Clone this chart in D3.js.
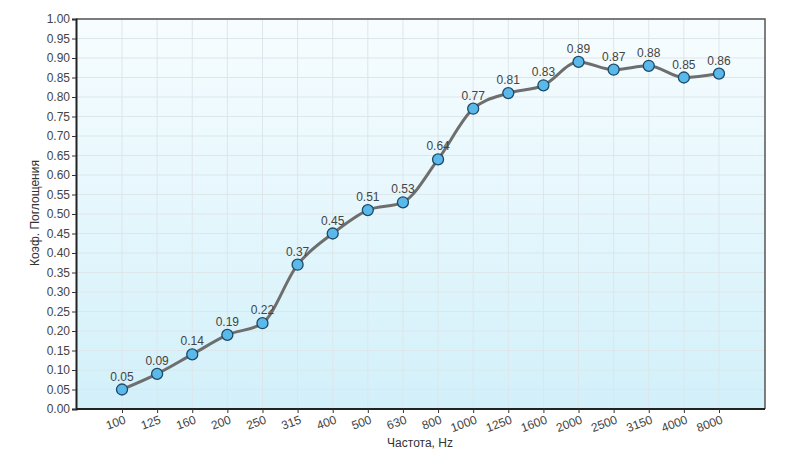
<!DOCTYPE html>
<html><head><meta charset="utf-8">
<script src="https://cdn.jsdelivr.net/npm/d3@7"></script>
<style>body{margin:0;background:#fff;}svg{display:block;font-family:Arial,"Liberation Sans",sans-serif;}</style>
</head><body>
<svg id="chart" width="800" height="457"></svg>
<script>
const categories = ["100","125","160","200","250","315","400","500","630","800","1000","1250","1600","2000","2500","3150","4000","8000"];
const values = [0.05,0.09,0.14,0.19,0.22,0.37,0.45,0.51,0.53,0.64,0.77,0.81,0.83,0.89,0.87,0.88,0.85,0.86];
const yTicks = d3.range(0, 21).map(i => +(i * 0.05).toFixed(2));
const yTitle = "Коэф. Поглощения";
const xTitle = "Частота, Hz";

const svg = d3.select("#chart");
const m = {left: 76, right: 35, top: 19, bottom: 48};
const W = 800, H = 457;
const x0 = m.left, x1 = W - m.right, y0 = H - m.bottom, y1 = m.top;

const x = d3.scalePoint().domain(categories).range([x0, x1]).padding(1.31);
const y = d3.scaleLinear().domain([0, 1]).range([y0, y1]);

const defs = svg.append("defs");
const grad = defs.append("linearGradient").attr("id", "bg").attr("x1", 0).attr("y1", 0).attr("x2", 0).attr("y2", 1);
grad.append("stop").attr("offset", "0%").attr("stop-color", "#f7fdff");
grad.append("stop").attr("offset", "100%").attr("stop-color", "#d2f0fa");

svg.append("rect").attr("x", x0).attr("y", y1).attr("width", x1 - x0).attr("height", y0 - y1).attr("fill", "url(#bg)");

// grid
svg.append("g").selectAll("line.h").data(yTicks.slice(1)).join("line")
  .attr("x1", x0).attr("x2", x1).attr("y1", d => y(d)).attr("y2", d => y(d))
  .attr("stroke", "#dde6ea").attr("stroke-width", 1);
svg.append("g").selectAll("line.v").data(categories).join("line")
  .attr("x1", d => x(d)).attr("x2", d => x(d)).attr("y1", y1).attr("y2", y0)
  .attr("stroke", "#dde6ea").attr("stroke-width", 1);

// border top/right
svg.append("path").attr("d", `M${x0},${y1}H${x1}V${y0}`).attr("fill", "none").attr("stroke", "#555").attr("stroke-width", 1.5);

// y axis
const yAxis = svg.append("g").attr("transform", `translate(${x0},0)`)
  .call(d3.axisLeft(y).tickValues(yTicks).tickFormat(d3.format(".2f")).tickSize(4).tickPadding(2));
yAxis.select(".domain").attr("stroke", "#222").attr("stroke-width", 2);
yAxis.selectAll(".tick line").attr("stroke", "#333");
yAxis.selectAll("text").attr("font-size", 12).attr("fill", "#444");

// x axis
const xAxis = svg.append("g").attr("transform", `translate(0,${y0})`)
  .call(d3.axisBottom(x).tickSize(4).tickPadding(3));
xAxis.select(".domain").attr("d", `M${x0},0H${x1}`).attr("stroke", "#222").attr("stroke-width", 2);
xAxis.selectAll(".tick line").attr("stroke", "#333");
xAxis.selectAll("text").attr("font-size", 12).attr("fill", "#444")
  .attr("text-anchor", "end").attr("dy", 0).attr("y", 0)
  .attr("transform", "translate(4,14) rotate(-20)");

// titles
svg.append("text").attr("x", 420).attr("y", 447).attr("text-anchor", "middle")
  .attr("font-size", 12).attr("fill", "#333").text(xTitle);
svg.append("text").attr("transform", "translate(39,213) rotate(-90)").attr("text-anchor", "middle")
  .attr("font-size", 12).attr("fill", "#333").text(yTitle);

// line
const line = d3.line().x((d, i) => x(categories[i])).y(d => y(d)).curve(d3.curveMonotoneX);
svg.append("path").datum(values).attr("d", line).attr("fill", "none")
  .attr("stroke", "#6e6e6e").attr("stroke-width", 3).attr("stroke-linejoin", "round");

// points
svg.append("g").selectAll("circle").data(values).join("circle")
  .attr("cx", (d, i) => x(categories[i])).attr("cy", d => y(d)).attr("r", 5.5)
  .attr("fill", "#5ab9ea").attr("stroke", "#1d4a66").attr("stroke-width", 1.3);

// labels
svg.append("g").selectAll("text").data(values).join("text")
  .attr("x", (d, i) => x(categories[i])).attr("y", d => y(d) - 9)
  .attr("text-anchor", "middle").attr("font-size", 12).attr("fill", "#444")
  .text(d => d3.format(".2f")(d));
</script>
</body></html>
